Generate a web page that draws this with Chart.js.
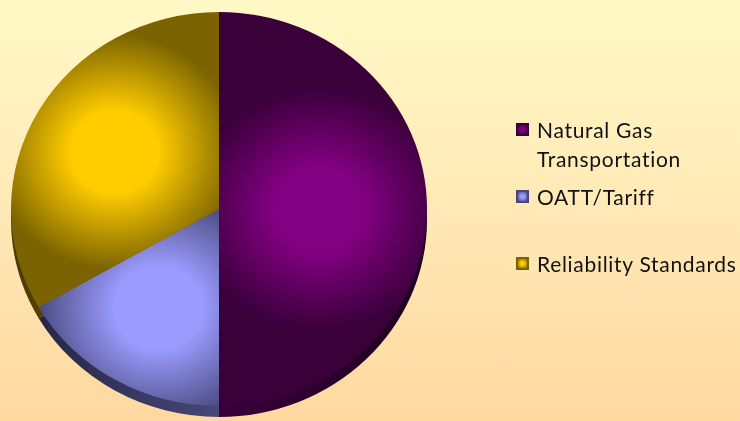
<!DOCTYPE html>
<html>
<head>
<meta charset="utf-8">
<script src="https://cdn.jsdelivr.net/npm/chart.js@4.4.1/dist/chart.umd.min.js"></script>
<style>
    html, body {
        margin: 0;
        padding: 0;
    }
    body {
        width: 740px;
        height: 421px;
        overflow: hidden;
        background: linear-gradient(to bottom, #fff9c6 0%, #ffe9b6 50%, #ffd8a0 100%);
        position: relative;
        font-family: Lato, "Open Sans", sans-serif;
    }
    #chart {
        position: absolute;
        left: 0;
        top: 0;
    }
    .legend {
        position: absolute;
        left: 516px;
        top: 0;
        color: #111;
        font-size: 21px;
        line-height: 29px;
        letter-spacing: 0.7px;
    }
    .legend-item {
        position: absolute;
        left: 0;
        width: 224px;
        white-space: nowrap;
    }
    .legend-box {
        position: absolute;
        left: 0;
        width: 13px;
        height: 13px;
        box-sizing: border-box;
    }
    .legend-text {
        position: absolute;
        left: 21px;
        top: 0;
    }
</style>
</head>
<body>
<canvas id="chart" width="740" height="421"></canvas>
<div class="legend" id="legend"></div>
<script>
// Chart data
const categories = ['Natural Gas', 'OATT/Tariff', 'Reliability Standards'];
const categoryLines = [['Natural Gas', 'Transportation'], ['OATT/Tariff'], ['Reliability Standards']];
const shares = [50, 16.7, 33.3];

// Colours: [bright, dark face edge, side wall]
const sliceColors = [
    ['#820082', '#3a003a', '#1c0020'],
    ['#9b9bff', '#47477a', '#22223c'],
    ['#ffcc00', '#7a6300', '#4a3a00']
];
const squish = 0.947;
const depth = 11;

function sliceGradient(context) {
    const chart = context.chart;
    const area = chart.chartArea;
    const i = context.dataIndex;
    if (!area) return sliceColors[i][0];
    const cx = (area.left + area.right) / 2;
    const cy = (area.top + area.bottom) / 2;
    const r = Math.min(area.right - area.left, area.bottom - area.top) / 2;
    const total = shares.reduce((a, b) => a + b, 0);
    let before = 0;
    for (let k = 0; k < i; k++) before += shares[k];
    const mid = (before + shares[i] / 2) / total * Math.PI * 2 - Math.PI / 2;
    const dist = i === 0 ? r * 0.48 : r * 0.58;
    const gx = cx + Math.cos(mid) * dist;
    const gy = cy + Math.sin(mid) * dist;
    const g = chart.ctx.createRadialGradient(gx, gy, 0, gx, gy, i === 0 ? r * 0.62 : r * 0.6);
    g.addColorStop(0, sliceColors[i][0]);
    g.addColorStop(0.35, sliceColors[i][0]);
    g.addColorStop(1, sliceColors[i][1]);
    return g;
}

// squash the pie into an ellipse and draw its side wall
const tiltPlugin = {
    id: 'tilt',
    beforeDatasetsDraw(chart) {
        const ctx = chart.ctx;
        const meta = chart.getDatasetMeta(0);
        const first = meta.data[0];
        const cx = first.x, cy = first.y;
        ctx.save();
        ctx.translate(cx, cy);
        ctx.scale(1, squish);
        ctx.translate(-cx, -cy);
        meta.data.forEach((arc, i) => {
            ctx.save();
            ctx.translate(0, depth / squish);
            const g = ctx.createLinearGradient(arc.x - arc.outerRadius, 0, arc.x + arc.outerRadius, 0);
            g.addColorStop(0, sliceColors[i][2]);
            g.addColorStop(0.5, sliceColors[i][1]);
            g.addColorStop(1, sliceColors[i][2]);
            ctx.fillStyle = g;
            ctx.beginPath();
            ctx.moveTo(arc.x, arc.y);
            ctx.arc(arc.x, arc.y, arc.outerRadius, arc.startAngle, arc.endAngle);
            ctx.closePath();
            ctx.fill();
            ctx.restore();
        });
    },
    afterDatasetsDraw(chart) {
        chart.ctx.restore();
    }
};

new Chart(document.getElementById('chart'), {
    type: 'pie',
    data: {
        labels: categories,
        datasets: [{
            data: shares,
            backgroundColor: sliceGradient,
            borderWidth: 0
        }]
    },
    options: {
        responsive: false,
        animation: false,
        events: [],
        layout: {
            padding: { left: 11, right: 313, top: 1, bottom: 4 }
        },
        plugins: {
            legend: { display: false },
            tooltip: { enabled: false }
        }
    },
    plugins: [tiltPlugin]
});

// Legend
const legendTops = [115, 182, 249];
const legend = document.getElementById('legend');
categoryLines.forEach((lines, i) => {
    const item = document.createElement('div');
    item.className = 'legend-item';
    item.style.top = legendTops[i] + 'px';
    const box = document.createElement('div');
    box.className = 'legend-box';
    box.style.top = '8px';
    box.style.background = 'radial-gradient(circle, ' + sliceColors[i][0] + ' 30%, ' + sliceColors[i][1] + ' 100%)';
    box.style.border = '2px solid ' + sliceColors[i][1];
    const text = document.createElement('div');
    text.className = 'legend-text';
    text.innerHTML = lines.join('<br>');
    item.appendChild(box);
    item.appendChild(text);
    legend.appendChild(item);
});
</script>
</body>
</html>
